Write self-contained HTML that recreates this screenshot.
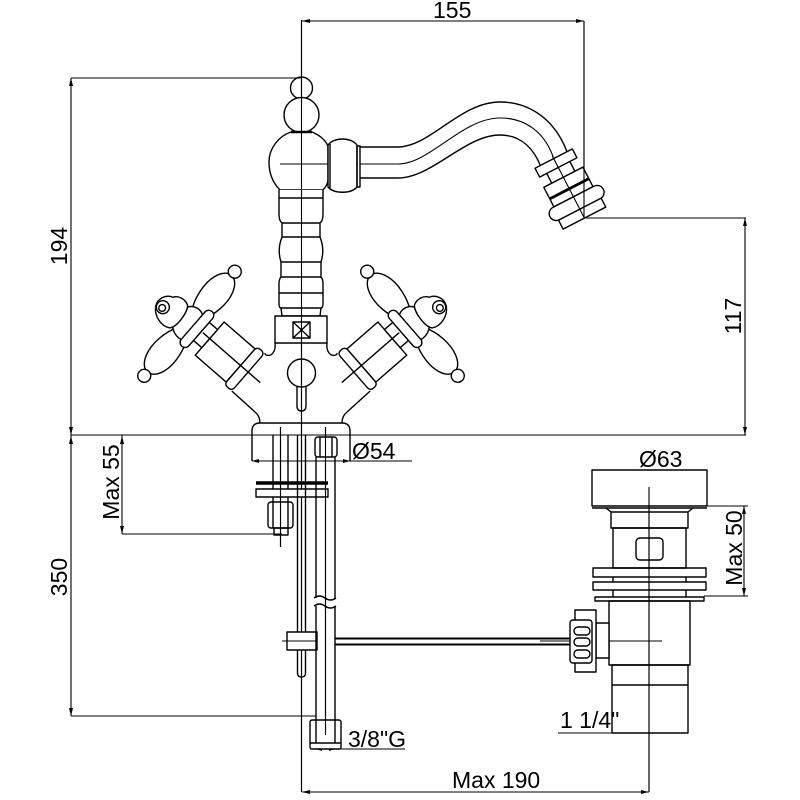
<!DOCTYPE html>
<html><head><meta charset="utf-8"><style>
html,body{margin:0;padding:0;background:#fff;}
svg{display:block}
text{font-family:"Liberation Sans",Arial,sans-serif;font-size:23px;fill:#000;stroke:none}
</style></head><body>
<svg width="800" height="800" viewBox="0 0 800 800" xmlns="http://www.w3.org/2000/svg">
<rect x="0" y="0" width="800" height="800" fill="#fff"/>
<defs>
<g id="half">
  <!-- cartridge + handle, left side -->
  <g transform="translate(301,418) rotate(-49)">
    <rect x="-22" y="-121" width="44" height="41" fill="#fff"/>
    <rect x="-25" y="-80" width="50" height="10" rx="4" fill="#fff"/>
    <rect x="-12" y="-132" width="24" height="11" fill="#fff"/>
    <path d="M10,-139 C20,-133 38,-130 50,-134 C59,-137 62,-142 62,-146 C62,-150 59,-155 50,-158 C38,-162 20,-159 10,-153" fill="#fff"/>
    <circle cx="67" cy="-146" r="6.5" fill="#fff"/>
    <path d="M-14,-139 C-24,-133 -42,-130 -54,-134 C-63,-137 -66,-142 -66,-146 C-66,-150 -63,-155 -54,-158 C-42,-162 -24,-159 -14,-153" fill="#fff"/>
    <circle cx="-71" cy="-146" r="6.5" fill="#fff"/>
    <path d="M-19,-140 C-22,-150 -16,-161 -4,-162 C8,-162 15,-156 15,-148 C15,-140 8,-136 -2,-136 C-10,-136 -17,-137 -19,-140 Z" fill="#fff"/>
    <path d="M-18,-158 C-23,-166 -19,-178 -11,-183 C-4,-187 5,-183 7,-176 C12,-173 14,-166 11,-160 C7,-155 -12,-153 -18,-158 Z" fill="#fff"/>
    <circle cx="-7" cy="-177" r="6.5" fill="#fff"/>
    <circle cx="-8" cy="-177" r="3.4" fill="#fff"/>
    <rect x="-24" y="-142" width="46" height="10" rx="5" fill="#fff"/>
    <line x1="0" y1="-54" x2="0" y2="-130"/>
  </g>
  <!-- body outline left -->
  <path d="M275,343 C276,351 272,357 266,355 L264.6,353.2"/>
  <path d="M231.8,391 L255,412 Q260,416 260,423"/>
</g>
</defs>

<g fill="none" stroke="#000" stroke-width="1.4" stroke-linejoin="round">
  <!-- dimension / construction lines -->
  <g stroke-width="1.1">
    <path d="M301.5,20 V792"/>
    <path d="M301.5,21 H584"/>
    <path d="M584,21 V218"/>
    <path d="M584,218 H746"/>
    <path d="M745,218 V435"/>
    <path d="M71,435 H746"/>
    <path d="M71,78 H301.5"/>
    <path d="M71,78 V716"/>
    <path d="M71,716 H316"/>
    <path d="M122,435 V534"/>
    <path d="M122,534 H282"/>
    <path d="M252,461 H412"/>
    <path d="M707,506 H748"/>
    <path d="M704,596 H748"/>
    <path d="M744,506 V596"/>
    <path d="M302,792 H649"/>
    <path d="M649,487 V792"/>
    <path d="M558,733 H688"/>
    <path d="M310,749 H405"/>
    <path d="M540,641 H662"/>
    <path d="M282,641 H317"/>
    <path d="M280.5,427 V547"/>
    <path d="M325.5,427 V735"/>
    <path d="M280,164 H358"/>
  </g>
  <!-- arrowheads -->
  <g fill="#000" stroke="none">
    <polygon points="302,21 310,19 310,23"/>
    <polygon points="584,21 576,19 576,23"/>
    <polygon points="71,78 69,86 73,86"/>
    <polygon points="71,435 69,427 73,427"/>
    <polygon points="71,436 69,444 73,444"/>
    <polygon points="71,716 69,708 73,708"/>
    <polygon points="745,218 743,226 747,226"/>
    <polygon points="745,435 743,427 747,427"/>
    <polygon points="122,436 120,444 124,444"/>
    <polygon points="122,534 120,526 124,526"/>
    <polygon points="744,506 742,514 746,514"/>
    <polygon points="744,596 742,588 746,588"/>
    <polygon points="302,792 310,790 310,794"/>
    <polygon points="649,792 641,790 641,794"/>
    <polygon points="252,461 259,459 259,463"/>
    <polygon points="350,461 343,459 343,463"/>
    <polygon points="316,749 322,747 322,751"/>
    <polygon points="335,749 329,747 329,751"/>
  </g>

  <!-- top balls -->
  <circle cx="301.5" cy="88" r="11"/>
  <circle cx="301.5" cy="115" r="17.5" fill="#fff"/>
  <!-- body sphere -->
  <path d="M291,132 L312,132 C319,135 325,139 328,146 L328,181 C327,185 325,188 323,190 L280,190 C273,183 269,173 269,162 C269,148 279,136 291,132 Z" fill="#fff"/>
  <path d="M291,132 H312" stroke-width="2.4"/>
  <path d="M280,164 H328" stroke-width="1.1"/>
  <!-- collar -->
  <path d="M328,145 C334,137 351,137 357,145 L357,187 C351,194 334,194 328,187 Z" fill="#fff"/>
  <path d="M330,144 V188"/>
  <rect x="357" y="146" width="3" height="41"/>
  <!-- spout -->
  <path d="M360,147 L398,147 C430,147 460,102 500,102 C530,102 555,120 567,151.7"/>
  <path d="M360,164 L398,164 C430,164 462,118 500,118 C528,118 546,135 553.7,158.6" stroke-width="1.1"/>
  <path d="M360,178 L398,178 C432,178 465,135 500,135 C522,135 534,150 540.4,165.5"/>
  <!-- nozzle -->
  <g transform="translate(556,163) rotate(-27.3)" fill="#fff">
    <rect x="-21" y="-5" width="42" height="10"/>
    <path d="M-13,5 V16 M13,5 V16" fill="none"/>
    <rect x="-22" y="16" width="44" height="22"/>
    <path d="M-22,29 H22" stroke-width="2.8" fill="none"/>
    <rect x="-30" y="38" width="60" height="14" rx="7"/>
    <rect x="-24" y="52" width="48" height="10"/>
    <path d="M0,-8 V62" stroke-width="1.1" fill="none"/>
  </g>
  <path d="M584,21 V218" stroke-width="1.1"/>

  <!-- column -->
  <path d="M279,190 L279,214 Q279,221 282,223 L282,237 Q277,249.5 281,262 L281,277 Q279,279 279,284 L279,303 Q279,308 281,308 L282,316 L320,316 L321,308 Q323,308 323,303 L323,284 Q323,279 321,277 L321,262 Q325,249.5 320,237 L320,223 Q323,221 323,214 L323,190" fill="#fff"/>
  <path d="M279,198 H323 M282,223 H320 M282,237 H320 M281,262 H321 M281,277 H321 M279,293 H323 M281,308 H321"/>
  <!-- block -->
  <rect x="275" y="316" width="52" height="27" fill="#fff"/>
  <rect x="293" y="322" width="17" height="16"/>
  <path d="M293,322 L310,338 M310,322 L293,338"/>

  <!-- handles (left and mirrored right) -->
  <use href="#half"/>
  <use href="#half" transform="translate(602,0) scale(-1,1)"/>

  <!-- center circle & stub -->
  <circle cx="301.5" cy="373" r="14"/>
  <path d="M297,386 V406 Q297,411 301.5,411 Q306,411 306,406 V386"/>
  <path d="M301.5,20 V792" stroke-width="1.1"/>

  <!-- base -->
  <path d="M252,461 V431 Q252,423 260,423 H342 Q350,423 350,431 V461"/>

  <!-- stud, washers, nut -->
  <path d="M273,435 V502 M288,435 V502"/>
  <path d="M256,483 H328" stroke-width="3.4"/>
  <rect x="256" y="489" width="72" height="8" fill="#fff"/>
  <rect x="268" y="502" width="25" height="26" rx="3" fill="#fff"/>
  <path d="M273,502 V528 M288,502 V528"/>
  <rect x="274" y="528" width="14" height="7"/>
  <path d="M280.5,427 V547" stroke-width="1.1"/>

  <!-- pop-up rod -->
  <path d="M297.5,435 V673 Q297.5,677 301.5,677 Q305.5,677 305.5,673 V435"/>
  <!-- clamp -->
  <rect x="287" y="632" width="30" height="18" fill="#fff"/>
  <path d="M282,641 H317" stroke-width="1.1"/>

  <!-- supply pipe -->
  <rect x="315" y="437" width="22" height="20" rx="3" fill="#fff"/>
  <path d="M320,437 V457 M332,437 V457"/>
  <path d="M316,457 V598 M335,457 V598 M316,606 V720 M335,606 V720"/>
  <path d="M314,598 q5.5,-4 11,0 t11,0 M314,606 q5.5,-4 11,0 t11,0"/>
  <rect x="310" y="720" width="31" height="29" rx="2" fill="#fff"/>
  <path d="M316,720 V743 M335,720 V743 M310,743 H341"/>
  <path d="M325.5,427 V735" stroke-width="1.1"/>

  <!-- horizontal waste rod -->
  <path d="M335,638.5 H572 M335,644.5 H572" stroke-width="2"/>

  <!-- drain -->
  <rect x="592" y="470" width="115" height="36" fill="#fff"/>
  <path d="M592,508 H707"/>
  <path d="M606,508 L611,512 L611,528 L688,528 L688,512 L693,508"/>
  <path d="M611,512 H688"/>
  <rect x="613" y="528" width="73" height="40"/>
  <rect x="636" y="538" width="27" height="22" rx="4"/>
  <rect x="593" y="568" width="113" height="9"/>
  <rect x="593" y="582" width="113" height="8"/>
  <path d="M613,577 V582 M686,577 V582 M613,590 V597 M686,590 V597"/>
  <rect x="595" y="597" width="109" height="4"/>
  <rect x="609" y="601" width="81" height="64"/>
  <rect x="612" y="665" width="76" height="68"/>
  <path d="M612,685 H688"/>
  <path d="M649,487 V792" stroke-width="1.1"/>
  <path d="M540,641 H662" stroke-width="1.1"/>
  <!-- drain lever nut -->
  <rect x="596" y="623" width="13" height="35" fill="#fff"/>
  <rect x="575" y="610" width="21" height="62" fill="#fff"/>
  <rect x="570" y="620" width="22" height="43" rx="3" fill="#fff"/>
  <rect x="574" y="627" width="16" height="8" rx="4"/>
  <rect x="574" y="638" width="16" height="8" rx="4"/>
  <rect x="574" y="650" width="16" height="8" rx="4"/>

  <!-- labels -->
  <text x="433" y="18">155</text>
  <text transform="translate(67,246) rotate(-90)" text-anchor="middle">194</text>
  <text transform="translate(67,577) rotate(-90)" text-anchor="middle">350</text>
  <text transform="translate(119,482) rotate(-90)" text-anchor="middle">Max 55</text>
  <text transform="translate(741,316) rotate(-90)" text-anchor="middle">117</text>
  <text transform="translate(742,548) rotate(-90)" text-anchor="middle">Max 50</text>
  <text x="352" y="459">Ø54</text>
  <text x="639" y="467">Ø63</text>
  <text x="560" y="728">1 1/4"</text>
  <text x="348" y="747">3/8"G</text>
  <text x="452" y="788">Max 190</text>
</g>
</svg>
</body></html>
